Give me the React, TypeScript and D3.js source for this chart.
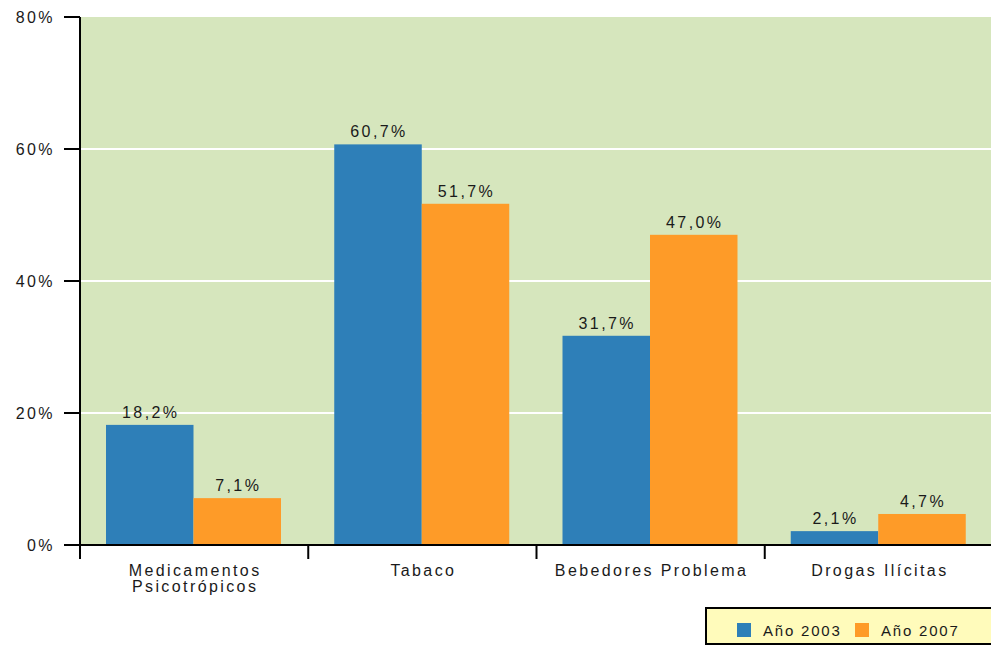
import React from "react";
import * as d3 from "d3";

const categories = [["Medicamentos", "Psicotrópicos"], ["Tabaco"], ["Bebedores Problema"], ["Drogas Ilícitas"]];
const series = ["Año 2003", "Año 2007"];
const values2003 = [18.2, 60.7, 31.7, 2.1];
const values2007 = [7.1, 51.7, 47.0, 4.7];
const yTicks = [0, 20, 40, 60, 80];
const colors = ["#2e7fb8", "#fe9b28"];

const W = 991, H = 646;
const left = 80, right = 993, top = 17, bottom = 545;
const font = "'Liberation Sans', Arial, sans-serif";

export default function App() {
  const catKeys = categories.map((c) => c.join(" "));
  const x0 = d3.scaleBand<string>().domain(catKeys).range([left, right]).padding(0);
  const x1 = d3.scaleBand<string>().domain(series).range([26, 26 + 175]).padding(0);
  const y = d3.scaleLinear().domain([0, 80]).range([bottom, top]);
  const data = [values2003, values2007];
  const fmt = (v: number) => v.toFixed(1).replace(".", ",") + "%";
  const ls = "2.4px";
  const fs = 16;
  const tc = "#1a1a1a";

  return (
    <div style={{ position: "absolute", left: 0, top: 0 }}>
      <svg width={W} height={H} style={{ display: "block", fontFamily: font }}>
        <rect x={left} y={top} width={right - left} height={bottom - top} fill="#d6e6bd" />
        {yTicks.filter((t) => t > 0 && t < 80).map((t) => (
          <line key={t} x1={left} x2={right} y1={y(t)} y2={y(t)} stroke="#fff" strokeWidth={2} />
        ))}
        {catKeys.map((c, ci) =>
          series.map((s, si) => {
            const v = data[si][ci];
            const bx = (x0(c) as number) + (x1(s) as number);
            return (
              <g key={c + s}>
                <rect x={bx} y={y(v)} width={x1.bandwidth()} height={bottom - y(v)} fill={colors[si]} />
                <text x={bx + x1.bandwidth() / 2 + 1} y={y(v) - 7} textAnchor="middle" fontSize={fs} letterSpacing={ls} fill={tc}>
                  {fmt(v)}
                </text>
              </g>
            );
          })
        )}
        {/* y axis */}
        <line x1={left} x2={left} y1={top} y2={559} stroke="#000" strokeWidth={2} />
        {yTicks.map((t) => (
          <g key={t}>
            <line x1={64} x2={left} y1={y(t)} y2={y(t)} stroke="#000" strokeWidth={2} />
            <text x={55} y={y(t) + 6} textAnchor="end" fontSize={fs} letterSpacing={ls} fill={tc}>{t}%</text>
          </g>
        ))}
        {/* x axis */}
        <line x1={left} x2={W} y1={bottom} y2={bottom} stroke="#000" strokeWidth={2} />
        {catKeys.slice(1).map((c) => (
          <line key={c} x1={x0(c) as number} x2={x0(c) as number} y1={bottom} y2={559} stroke="#000" strokeWidth={2} />
        ))}
        {categories.map((lines, ci) => (
          <text key={ci} y={576} textAnchor="middle" fontSize={fs} letterSpacing={ls} fill={tc}>
            {lines.map((l, li) => (
              <tspan key={li} x={(x0(catKeys[ci]) as number) + x0.bandwidth() / 2 + 1} dy={li === 0 ? 0 : 16}>{l}</tspan>
            ))}
          </text>
        ))}
        {/* legend */}
        <rect x={706} y={608} width={300} height={36} fill="#fffbbb" stroke="#000" strokeWidth={2} />
        {series.map((s, i) => (
          <g key={s} transform={`translate(${737 + i * 118},623)`}>
            <rect width={14} height={14} fill={colors[i]} />
            <text x={26} y={13} fontSize={15} letterSpacing="1.8px" fill={tc}>{s}</text>
          </g>
        ))}
      </svg>
    </div>
  );
}
